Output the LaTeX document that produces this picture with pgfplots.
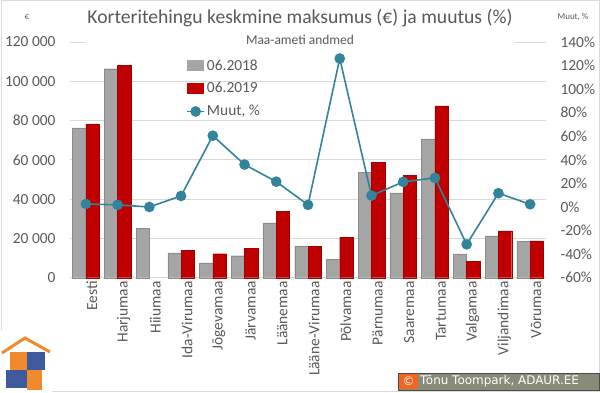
\documentclass[border=0pt]{standalone}
\usepackage{pgfplots}
\pgfplotsset{compat=1.18}
\usepackage{pgfplotstable}
\usepackage{fontspec}
\setmainfont{Carlito}
\newfontfamily\dejavu{DejaVu Sans}
\definecolor{txt}{HTML}{595959}
\definecolor{barG}{HTML}{A5A5A5}
\definecolor{barR}{HTML}{C00000}
\definecolor{tealc}{HTML}{31849B}
\definecolor{gridc}{HTML}{D9D9D9}
\definecolor{logoO}{HTML}{F08A2C}
\definecolor{logoB}{HTML}{3F5A9C}
\definecolor{copyg}{HTML}{8A8A78}
\definecolor{copyo}{HTML}{F26522}

\pgfplotstableread{
x g r p
0 76300 78300 2.6
1 106400 108200 1.8
2 25200 nan 0.0
3 12700 14100 9.4
4 7500 12200 60.5
5 11200 14800 36.0
6 27900 33800 21.5
7 16200 16000 1.8
8 9400 20600 126.0
9 53700 58600 9.7
10 43200 52000 21.3
11 70700 87500 24.7
12 12100 8200 -31.7
13 21300 23800 11.7
14 18400 18700 2.3
}\data

\begin{document}
\begin{tikzpicture}[x=1bp,y=1bp]
\useasboundingbox (0,0) rectangle (600,392);
% outer border
\draw[gridc, line width=0.75bp] (1,1) rectangle (599,391.5);

\begin{axis}[
  at={(70bp,114.3bp)}, anchor=south west, scale only axis,
  width=476bp, height=235.7bp,
  xmin=-0.5, xmax=14.5, ymin=0, ymax=120000,
  ybar, bar width=13.3bp,
  xtick={0,...,14},
  xticklabels={Eesti,Harjumaa,Hiiumaa,Ida-Virumaa,Jõgevamaa,Järvamaa,Läänemaa,Lääne-Virumaa,Põlvamaa,Pärnumaa,Saaremaa,Tartumaa,Valgamaa,Viljandimaa,Võrumaa},
  xticklabel style={rotate=90, anchor=east, font=\fontsize{15.5}{16}\selectfont, text=txt, yshift=-6bp},
  ytick={0,20000,40000,60000,80000,100000,120000},
  yticklabels={0,20 000,40 000,60 000,80 000,100 000,120 000},
  yticklabel style={font=\fontsize{15.5}{16}\selectfont, text=txt, xshift=-11bp},
  axis x line*=bottom, axis y line*=left,
  x axis line style={draw=gridc, line width=0.8bp, -},
  y axis line style={draw=none},
  major tick length=0,
  ymajorgrids, grid style={draw=gridc, line width=0.75bp},
  scaled y ticks=false,
  clip=false,
]
\addplot[fill=barG, draw=barG!85!black, line width=0.4bp, bar shift=-6.65bp] table[x=x,y=g]{\data};
\addplot[fill=barR, draw=barR!85!black, line width=0.4bp, bar shift=6.65bp] table[x=x,y=r]{\data};
\end{axis}

% title area covers top gridline
\fill[white] (85,344) rectangle (515,391);
\node[txt, font=\fontsize{19.7}{22}\selectfont] at (300,374) {Korteritehingu keskmine maksumus (€) ja muutus (\%)};
\node[txt, font=\fontsize{13.5}{16}\selectfont] at (300,352) {Maa-ameti andmed};
\node[txt, font=\fontsize{9}{10}\selectfont] at (27,375) {€};
\node[txt, font=\fontsize{9}{10}\selectfont] at (573,375) {Muut, \%};

\begin{axis}[
  at={(70bp,114.3bp)}, anchor=south west, scale only axis,
  width=476bp, height=235.7bp,
  xmin=-0.5, xmax=14.5, ymin=-60, ymax=140,
  axis x line=none,
  axis y line*=right,
  y axis line style={draw=none},
  major tick length=0,
  ytick={-60,-40,-20,0,20,40,60,80,100,120,140},
  yticklabels={-60\%,-40\%,-20\%,0\%,20\%,40\%,60\%,80\%,100\%,120\%,140\%},
  yticklabel style={font=\fontsize{15.5}{16}\selectfont, text=txt, xshift=11bp},
  clip=false,
  legend style={at={(0.244,0.935)}, anchor=north west, draw=none, fill=none,
    font=\fontsize{15.5}{16}\selectfont, text=txt, row sep=7bp, inner sep=0pt},
  legend cell align=left,
]
\addlegendimage{legend image code/.code={\fill[barG] (0bp,-5bp) rectangle (16bp,5bp);}}
\addlegendentry{06.2018}
\addlegendimage{legend image code/.code={\fill[barR] (0bp,-5bp) rectangle (16bp,5bp);}}
\addlegendentry{06.2019}
\addplot[color=tealc, line width=1.6bp, mark=*, mark size=4.5bp, mark options={fill=tealc, draw=tealc}] table[x=x,y=p]{\data};
\addlegendentry{Muut, \%}
\end{axis}

% logo
\fill[white] (0,0) rectangle (52,62);
\fill[logoO] (10,22) rectangle (27,40);
\fill[logoB] (27,22) rectangle (45,40);
\fill[logoB] (6,4) rectangle (27,22);
\fill[logoO] (27,2) rectangle (42,22);
\draw[logoO, line width=3bp] (2,39) -- (25,54) -- (50,40);

% copyright
\draw[fill=copyg, draw=black!70] (398,2) rectangle (599,19);
\fill[copyo] (399,3) rectangle (418,18);
\node[white, font=\dejavu\fontsize{12}{13}\selectfont] at (408.5,10.5) {©};
\node[white, font=\dejavu\fontsize{12}{13}\selectfont, anchor=west, inner sep=0pt] at (420,10.5) {Tõnu Toompark, ADAUR.EE};
\end{tikzpicture}
\end{document}
